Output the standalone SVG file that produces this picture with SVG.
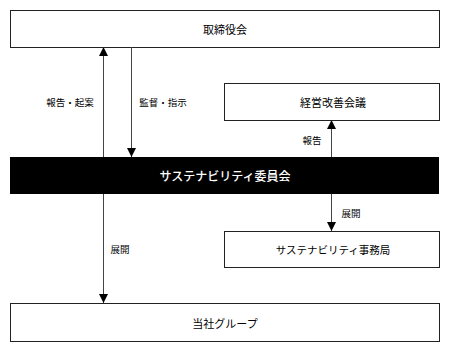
<svg xmlns="http://www.w3.org/2000/svg" width="449" height="353" viewBox="0 0 449 353">
<style>
.box{fill:#fff;stroke:#222;stroke-width:1}
.t{font-family:"Noto Sans CJK JP","Noto Sans CJK SC",sans-serif;font-size:11px;fill:#000;text-anchor:middle;dominant-baseline:central}
.lb{font-family:"Noto Sans CJK JP","Noto Sans CJK SC",sans-serif;font-size:9.5px;fill:#000;text-anchor:middle;dominant-baseline:central}
.ln{stroke:#444;stroke-width:1;fill:none;marker-end:url(#ah)}
</style>
<defs>
<marker id="ah" markerUnits="userSpaceOnUse" markerWidth="9" markerHeight="9" refX="9" refY="4.5" orient="auto" viewBox="0 0 9 9">
<path d="M0,0 L9,4.5 L0,9 Z" fill="#000"/>
</marker>
</defs>
<g id="board"><rect class="box" x="10.5" y="10.5" width="429" height="37"/><text class="t" x="225" y="29">取締役会</text></g>
<g id="committee"><rect x="10" y="157" width="429" height="37" fill="#000"/><text class="t" x="225" y="175.5" style="fill:#fff;font-size:12px;font-weight:500">サステナビリティ委員会</text></g>
<g id="council"><rect class="box" x="224.5" y="83.5" width="215" height="37"/><text class="t" x="333" y="102">経営改善会議</text></g>
<g id="office"><rect class="box" x="224.5" y="231.5" width="215" height="36"/><text class="t" x="333" y="249.5" style="font-size:10.5px">サステナビリティ事務局</text></g>
<g id="group"><rect class="box" x="10.5" y="303.5" width="429" height="38"/><text class="t" x="225" y="322.5">当社グループ</text></g>
<g id="connectors">
<line class="ln" x1="103.5" y1="157" x2="103.5" y2="47"/>
<line class="ln" x1="131.5" y1="47" x2="131.5" y2="157"/>
<line class="ln" x1="331.5" y1="157" x2="331.5" y2="120"/>
<line class="ln" x1="331.5" y1="194" x2="331.5" y2="231"/>
<line class="ln" x1="103.5" y1="194" x2="103.5" y2="303"/>
<text class="lb" x="70" y="102">報告・起案</text>
<text class="lb" x="163" y="102">監督・指示</text>
<text class="lb" x="312" y="140">報告</text>
<text class="lb" x="351" y="213">展開</text>
<text class="lb" x="120" y="249">展開</text>
</g>
</svg>
